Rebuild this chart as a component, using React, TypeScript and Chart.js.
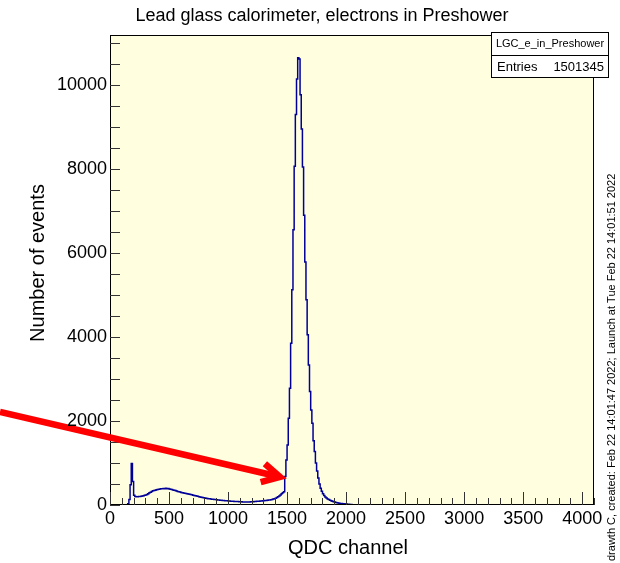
import { useEffect, useRef } from 'react';
import { Chart, registerables } from 'chart.js';

Chart.register(...registerables);

const TITLE = 'Lead glass calorimeter, electrons in Preshower';
const X_TITLE = 'QDC channel';
const Y_TITLE = 'Number of events';
const HIST_NAME = 'LGC_e_in_Preshower';
const ENTRIES_LABEL = 'Entries';
const ENTRIES = '1501345';
const SIDE_TEXT = 'drawth C, created: Feb 22 14:01:47 2022; Launch at Tue Feb 22 14:01:51 2022';

const X_TICKS = [0, 500, 1000, 1500, 2000, 2500, 3000, 3500, 4000];
const Y_TICKS = [0, 2000, 4000, 6000, 8000, 10000];
const X_MIN = 0;
const X_MAX = 4100;
const Y_MIN = 0;
const Y_MAX = 11180;

const BIN_START = 150;
const BIN_WIDTH = 10;
const COUNTS = [
  0, 30, 130, 480, 990, 560, 230, 205, 198, 196,
  200, 203, 208, 215, 222, 232, 238, 252, 268, 290,
  305, 322, 338, 346, 352, 362, 368, 373, 378, 384,
  386, 394, 389, 396, 388, 391, 381, 372, 367, 356,
  349, 342, 333, 324, 316, 307, 299, 293, 286, 280,
  276, 268, 261, 254, 248, 241, 234, 228, 219, 212,
  206, 199, 193, 186, 179, 173, 167, 161, 156, 150,
  146, 141, 137, 134, 131, 128, 125, 121, 118, 115,
  112, 110, 107, 104, 101, 99, 96, 94, 92, 90,
  88, 86, 84, 83, 81, 79, 77, 75, 74, 72,
  71, 71, 72, 73, 74, 76, 78, 80, 82, 84,
  87, 89, 92, 94, 97, 100, 103, 106, 109, 113,
  117, 121, 126, 132, 140, 150, 163, 178, 195, 215,
  240, 265, 290, 317, 675, 1071, 1428, 2063, 2778, 3849,
  5119, 6548, 8056, 9286, 10135, 10640, 10610, 9760, 8945, 8040,
  6890, 5780, 4880, 4050, 3330, 2700, 2260, 1945, 1530, 1270,
  1000, 810, 640, 500, 400, 325, 270, 225, 190, 165,
  145, 128, 113, 100, 88, 78, 69, 61, 54, 48,
  43, 38, 34, 30, 27, 24, 21, 18, 15, 13,
  10, 8, 6, 4, 2, 1,
];

// red annotation arrow, in data units
const ARROW_FROM = { x: -932, y: 2214 };
const ARROW_TO = { x: 1440, y: 667 };

const FONT = '"Liberation Sans", Arial, Helvetica, sans-serif';

const rootPlugin = {
  id: 'rootStyle',
  beforeDraw(chart: any) {
    const { ctx, chartArea: a } = chart;
    ctx.save();
    ctx.fillStyle = '#ffffff';
    ctx.fillRect(0, 0, chart.width, chart.height);
    ctx.fillStyle = '#ffffe0';
    ctx.fillRect(a.left, a.top, a.right - a.left, a.bottom - a.top);
    ctx.restore();
  },
  afterDatasetsDraw(chart: any) {
    const { ctx, chartArea: a, scales } = chart;
    const xs = scales.x;
    const ys = scales.y;
    ctx.save();
    // frame
    ctx.strokeStyle = '#000';
    ctx.lineWidth = 1;
    ctx.strokeRect(a.left + 0.5, a.top + 0.5, a.right - a.left - 1, a.bottom - a.top - 1);
    // x ticks
    ctx.strokeStyle = '#333';
    ctx.beginPath();
    for (let v = X_MIN; v <= X_MAX; v += 100) {
      const px = Math.round(xs.getPixelForValue(v)) + 0.5;
      const len = v % 500 === 0 ? 13 : 7;
      ctx.moveTo(px, a.bottom);
      ctx.lineTo(px, a.bottom - len);
    }
    // y ticks
    for (let v = Y_MIN; v <= Y_MAX; v += 500) {
      const py = Math.round(ys.getPixelForValue(v)) + 0.5;
      ctx.moveTo(a.left, py);
      ctx.lineTo(a.left + 10, py);
    }
    ctx.stroke();

    // arrow
    const x0 = xs.getPixelForValue(ARROW_FROM.x);
    const y0 = ys.getPixelForValue(ARROW_FROM.y);
    const x1 = xs.getPixelForValue(ARROW_TO.x);
    const y1 = ys.getPixelForValue(ARROW_TO.y);
    const ang = Math.atan2(y0 - y1, x0 - x1);
    const wing = 20;
    const spread = (28 * Math.PI) / 180;
    ctx.strokeStyle = '#ff0000';
    ctx.lineWidth = 6.5;
    ctx.lineCap = 'butt';
    ctx.lineJoin = 'miter';
    ctx.beginPath();
    ctx.moveTo(x0, y0);
    ctx.lineTo(x1 + 3 * Math.cos(ang), y1 + 3 * Math.sin(ang));
    ctx.stroke();
    ctx.beginPath();
    ctx.moveTo(x1 + wing * Math.cos(ang + spread), y1 + wing * Math.sin(ang + spread));
    ctx.lineTo(x1, y1);
    ctx.lineTo(x1 + wing * Math.cos(ang - spread), y1 + wing * Math.sin(ang - spread));
    ctx.stroke();
    ctx.restore();
  },
  afterDraw(chart: any) {
    const { ctx } = chart;
    ctx.save();
    ctx.fillStyle = '#000';
    ctx.textBaseline = 'middle';
    // title
    ctx.font = `18px ${FONT}`;
    ctx.textAlign = 'center';
    ctx.fillText(TITLE, 322, 16);
    // x title
    ctx.font = `20px ${FONT}`;
    ctx.fillText(X_TITLE, 348, 548);
    // y title
    ctx.save();
    ctx.translate(38, 263);
    ctx.rotate(-Math.PI / 2);
    ctx.fillText(Y_TITLE, 0, 0);
    ctx.restore();
    // side text
    ctx.save();
    ctx.translate(612, 561);
    ctx.rotate(-Math.PI / 2);
    ctx.font = `11px ${FONT}`;
    ctx.textAlign = 'left';
    ctx.fillText(SIDE_TEXT, 0, 0);
    ctx.restore();
    // stats box
    ctx.fillStyle = '#fff';
    ctx.fillRect(491, 32, 118, 46);
    ctx.strokeStyle = '#000';
    ctx.lineWidth = 1;
    ctx.strokeRect(491.5, 32.5, 117, 45);
    ctx.beginPath();
    ctx.moveTo(491, 55.5);
    ctx.lineTo(609, 55.5);
    ctx.stroke();
    ctx.fillStyle = '#000';
    ctx.font = `11px ${FONT}`;
    ctx.textAlign = 'center';
    ctx.fillText(HIST_NAME, 550, 44);
    ctx.font = `13px ${FONT}`;
    ctx.textAlign = 'left';
    ctx.fillText(ENTRIES_LABEL, 497, 67);
    ctx.textAlign = 'right';
    ctx.fillText(ENTRIES, 604, 67);
    ctx.restore();
  },
};

export default function App() {
  const ref = useRef<HTMLCanvasElement | null>(null);
  useEffect(() => {
    if (!ref.current) return;
    const points = COUNTS.map((c, i) => ({ x: BIN_START + i * BIN_WIDTH, y: c }));
    points.push({ x: BIN_START + COUNTS.length * BIN_WIDTH, y: 0 });
    const tickFont = { family: FONT, size: 18 };
    const chart = new Chart(ref.current, {
      type: 'line',
      data: {
        datasets: [
          {
            data: points,
            stepped: 'after',
            borderColor: '#000099',
            borderWidth: 1.5,
            pointRadius: 0,
            fill: false,
          },
        ],
      },
      options: {
        animation: false,
        responsive: false,
        devicePixelRatio: 1,
        layout: { padding: { left: 0, top: 35, right: 26, bottom: 0 } },
        plugins: {
          legend: { display: false },
          tooltip: { enabled: false },
          title: { display: false },
        },
        scales: {
          x: {
            type: 'linear',
            min: X_MIN,
            max: X_MAX,
            grid: { display: false, drawTicks: false },
            border: { display: false },
            afterBuildTicks: (s: any) => {
              s.ticks = X_TICKS.map((v) => ({ value: v }));
            },
            afterFit: (s: any) => {
              s.height = 58;
            },
            ticks: {
              padding: 3,
              font: tickFont,
              color: '#000',
              maxRotation: 0,
              autoSkip: false,
              z: 1,
              callback: (v: any) => String(v),
            },
          },
          y: {
            type: 'linear',
            min: Y_MIN,
            max: Y_MAX,
            grid: { display: false, drawTicks: false },
            border: { display: false },
            afterBuildTicks: (s: any) => {
              s.ticks = Y_TICKS.map((v) => ({ value: v }));
            },
            afterFit: (s: any) => {
              s.width = 110;
            },
            ticks: {
              padding: 3,
              font: tickFont,
              color: '#000',
              autoSkip: false,
              z: 1,
              callback: (v: any) => String(v),
            },
          },
        },
      },
      plugins: [rootPlugin],
    } as any);
    return () => chart.destroy();
  }, []);
  return (
    <canvas
      ref={ref}
      width={620}
      height={563}
      style={{ position: 'fixed', left: 0, top: 0, width: 620, height: 563 }}
    />
  );
}
